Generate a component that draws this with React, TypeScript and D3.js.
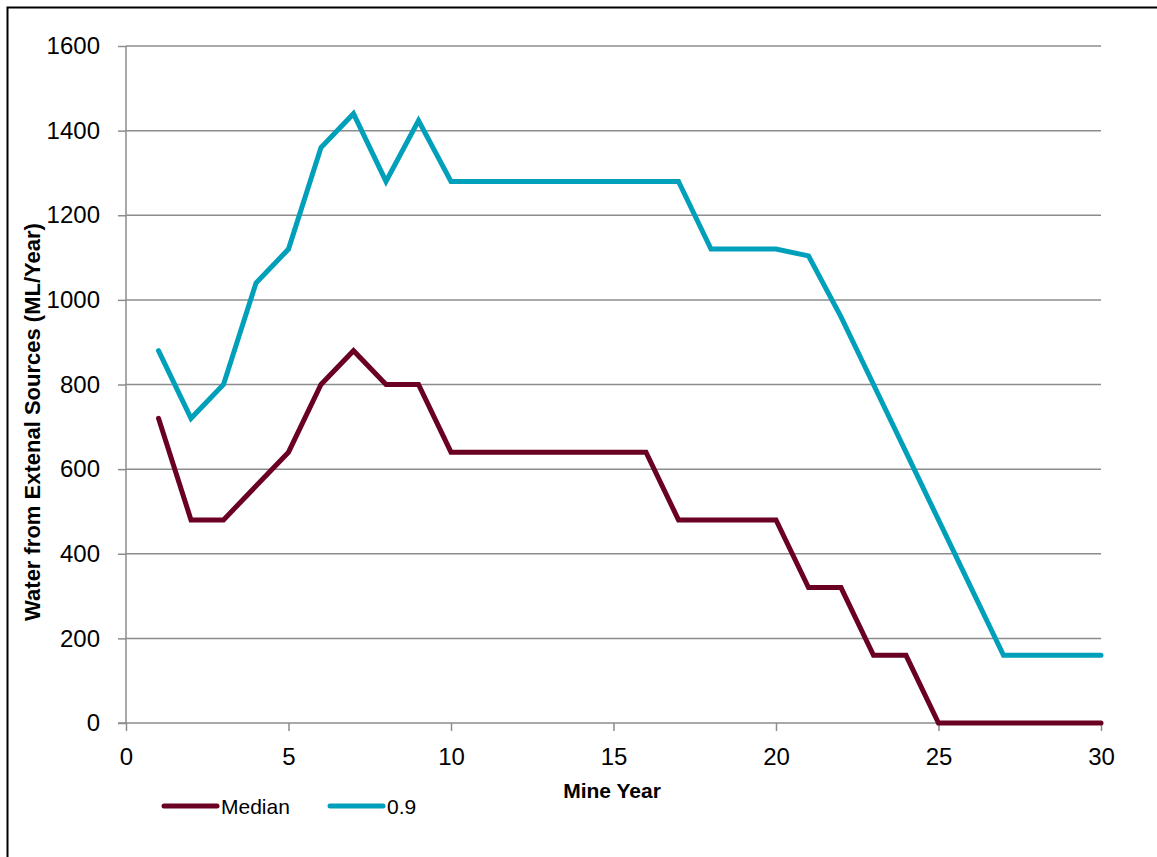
import React, { useEffect, useRef } from "react";
import * as d3 from "d3";

const years: number[] = d3.range(1, 31);
const medianValues: number[] = [
  720, 480, 480, 560, 640, 800, 880, 800, 800, 640,
  640, 640, 640, 640, 640, 640, 480, 480, 480, 480,
  320, 320, 160, 160, 0, 0, 0, 0, 0, 0,
];
const p90Values: number[] = [
  880, 720, 800, 1040, 1120, 1360, 1440, 1280, 1424, 1280,
  1280, 1280, 1280, 1280, 1280, 1280, 1280, 1120, 1120, 1120,
  1104, 960, 800, 640, 480, 320, 160, 160, 160, 160,
];
const xTicks: number[] = [0, 5, 10, 15, 20, 25, 30];
const yTicks: number[] = [0, 200, 400, 600, 800, 1000, 1200, 1400, 1600];
const seriesNames: string[] = ["Median", "0.9"];
const seriesColors: string[] = ["#6a0022", "#009fba"];

const W = 1157;
const H = 857;
const FONT = "'Liberation Sans', Arial, sans-serif";

export default function App() {
  const ref = useRef<SVGSVGElement | null>(null);

  useEffect(() => {
    const svg = d3.select(ref.current);
    svg.selectAll("*").remove();

    const x = d3.scaleLinear().domain([0, 30]).range([126, 1101]);
    const y = d3.scaleLinear().domain([0, 1600]).range([723, 46]);

    // outer frame
    svg.append("rect")
      .attr("x", 7.5).attr("y", 7.5)
      .attr("width", W).attr("height", H)
      .attr("fill", "#fff").attr("stroke", "#000").attr("stroke-width", 2);

    // horizontal gridlines
    svg.append("g").selectAll("line").data(yTicks.filter((t) => t > 0)).join("line")
      .attr("x1", x(0)).attr("x2", x(30))
      .attr("y1", (d) => y(d)).attr("y2", (d) => y(d))
      .attr("stroke", "#8c8c8c").attr("stroke-width", 1.5);

    // y axis
    const yAxis = d3.axisLeft(y).tickValues(yTicks).tickSize(8).tickPadding(18)
      .tickFormat((d) => String(d));
    const gy = svg.append("g").attr("transform", `translate(${x(0)},0)`).call(yAxis);
    gy.select(".domain").attr("stroke", "#8c8c8c").attr("stroke-width", 1.5)
      .attr("d", `M0,${y(1600)}V${y(0)}`);
    gy.selectAll(".tick line").attr("stroke", "#8c8c8c").attr("stroke-width", 1.5);
    gy.selectAll(".tick text").attr("font-family", FONT).attr("font-size", 24).attr("fill", "#000");

    // x axis
    const xAxis = d3.axisBottom(x).tickValues(xTicks).tickSize(8).tickPadding(17)
      .tickFormat((d) => String(d));
    const gx = svg.append("g").attr("transform", `translate(0,${y(0)})`).call(xAxis);
    gx.select(".domain").attr("stroke", "#8c8c8c").attr("stroke-width", 1.5)
      .attr("d", `M${x(0) - 8},0H${x(30)}`);
    gx.selectAll(".tick line").attr("stroke", "#8c8c8c").attr("stroke-width", 1.5);
    gx.selectAll(".tick text").attr("font-family", FONT).attr("font-size", 24).attr("fill", "#000");

    // series lines
    const line = d3.line<number>()
      .x((_, i) => x(years[i]))
      .y((d) => y(d));
    [medianValues, p90Values].forEach((vals, i) => {
      svg.append("path")
        .attr("d", line(vals) as string)
        .attr("fill", "none")
        .attr("stroke", seriesColors[i])
        .attr("stroke-width", 5)
        .attr("stroke-linejoin", "miter")
        .attr("stroke-linecap", "round");
    });

    // axis titles
    svg.append("text")
      .attr("transform", `translate(40,422) rotate(-90)`)
      .attr("text-anchor", "middle")
      .attr("font-family", FONT).attr("font-size", 22).attr("font-weight", "bold")
      .text("Water from Extenal Sources (ML/Year)");
    svg.append("text")
      .attr("x", 612).attr("y", 798)
      .attr("text-anchor", "middle")
      .attr("font-family", FONT).attr("font-size", 21).attr("font-weight", "bold")
      .text("Mine Year");

    // legend
    const legendX = [164, 330];
    seriesNames.forEach((name, i) => {
      const g = svg.append("g").attr("transform", `translate(${legendX[i]},806)`);
      g.append("line").attr("x1", 0).attr("x2", 53).attr("y1", 0).attr("y2", 0)
        .attr("stroke", seriesColors[i]).attr("stroke-width", 5).attr("stroke-linecap", "round");
      g.append("text").attr("x", 57).attr("y", 7.5)
        .attr("font-family", FONT).attr("font-size", 21).attr("fill", "#000")
        .text(name);
    });
  }, []);

  return (
    <svg
      ref={ref}
      width={W}
      height={H}
      style={{ position: "absolute", left: 0, top: 0, background: "#fff" }}
    />
  );
}
